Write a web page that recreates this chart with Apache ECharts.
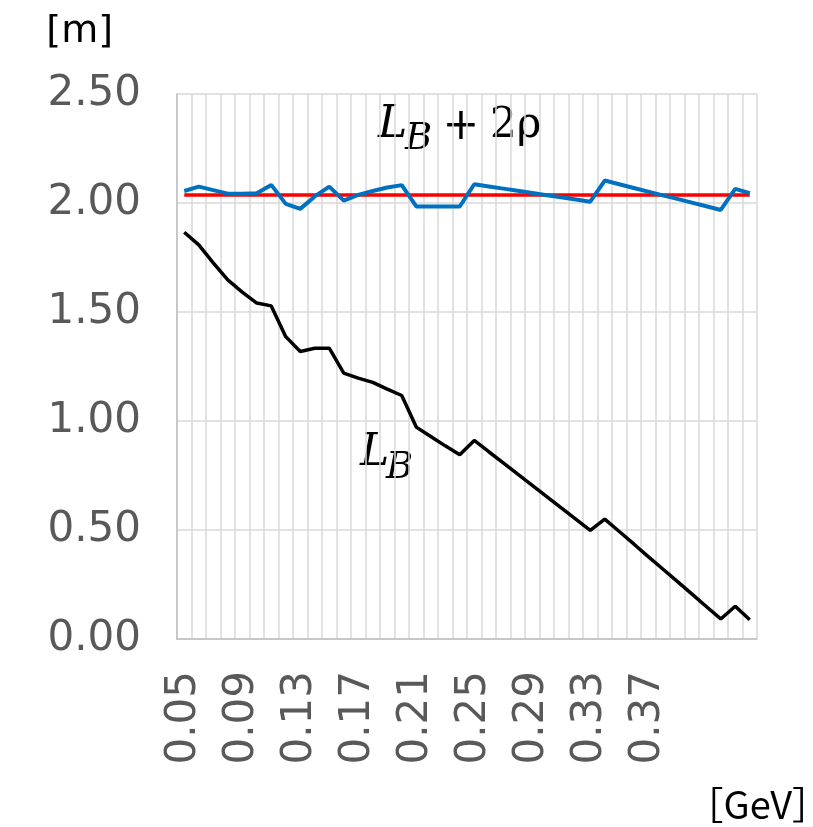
<!DOCTYPE html>
<html>
<head>
<meta charset="utf-8">
<script src="https://cdn.jsdelivr.net/npm/echarts@6/dist/echarts.min.js"></script>
<style>html,body{margin:0;padding:0;background:#fff}#c{width:813px;height:827px}</style>
</head>
<body>
<div id="c"></div>
<script>
const categories = ['0.05','0.06','0.07','0.08','0.09','0.10','0.11','0.12','0.13','0.14',
  '0.15','0.16','0.17','0.18','0.19','0.20','0.21','0.22','0.23','0.24',
  '0.25','0.26','0.27','0.28','0.29','0.30','0.31','0.32','0.33','0.34',
  '0.35','0.36','0.37','0.38','0.39','0.40','0.41','0.42','0.43','0.44'];
const shownTickLabels = ['0.05','0.09','0.13','0.17','0.21','0.25','0.29','0.33','0.37'];
const LB = [1.866,1.808,1.725,1.647,1.591,1.541,1.528,1.387,1.319,1.334,
  1.334,1.220,1.197,1.177,1.146,1.117,0.972,0.929,0.886,0.845,
  0.911,0.859,0.808,0.756,0.705,0.653,0.601,0.550,0.498,0.550,
  0.493,0.436,0.378,0.321,0.264,0.207,0.149,0.092,0.150,0.088];
const LB2rho = [2.055,2.075,2.059,2.043,2.043,2.045,2.083,1.996,1.973,2.030,
  2.075,2.011,2.037,2.055,2.071,2.082,1.984,1.984,1.984,1.984,
  2.086,2.076,2.066,2.056,2.046,2.036,2.026,2.016,2.006,2.103,
  2.086,2.069,2.052,2.035,2.019,2.002,1.985,1.968,2.065,2.045];
const refLine = [2.037,2.037,2.037,2.037,2.037,2.037,2.037,2.037,2.037,2.037,
  2.037,2.037,2.037,2.037,2.037,2.037,2.037,2.037,2.037,2.037,
  2.037,2.037,2.037,2.037,2.037,2.037,2.037,2.037,2.037,2.037,
  2.037,2.037,2.037,2.037,2.037,2.037,2.037,2.037,2.037,2.037];
const yTicks = {min: 0, max: 2.5, interval: 0.5};

const chart = echarts.init(document.getElementById('c'), null, {renderer: 'canvas'});
const sans = '"DejaVu Sans", Verdana, sans-serif';
const serif = '"DejaVu Serif", "Liberation Serif", serif';
chart.setOption({
  animation: false,
  backgroundColor: '#fff',
  grid: {left: 177, right: 56, top: 94, bottom: 188, containLabel: false},
  xAxis: {
    type: 'category',
    data: categories,
    boundaryGap: true,
    axisLine: {show: true, lineStyle: {color: '#bfbfbf', width: 1.5}},
    axisTick: {show: false},
    splitLine: {show: true, interval: 0, lineStyle: {color: '#d9d9d9', width: 1.5}},
    axisLabel: {
      interval: 0, rotate: 90, margin: 32,
      color: '#595959', fontFamily: sans, fontSize: 42,
      formatter: v => shownTickLabels.includes(v) ? v : ''
    }
  },
  yAxis: {
    type: 'value', min: yTicks.min, max: yTicks.max, interval: yTicks.interval,
    axisLine: {show: true, lineStyle: {color: '#bfbfbf', width: 1.5}},
    axisTick: {show: false},
    splitLine: {show: true, lineStyle: {color: '#d9d9d9', width: 1.5}},
    axisLabel: {
      margin: 36, color: '#595959', fontFamily: sans, fontSize: 42,
      formatter: v => v.toFixed(2)
    }
  },
  series: [
    {type: 'line', data: refLine, symbol: 'none', lineStyle: {color: '#ff0000', width: 3.5}, z: 2},
    {type: 'line', data: LB2rho, symbol: 'none', lineStyle: {color: '#0070c0', width: 4}, z: 3},
    {type: 'line', data: LB, symbol: 'none', lineStyle: {color: '#000000', width: 3.5}, z: 3}
  ],
  graphic: [
    {type: 'text', x: 113, y: 32, style: {text: '[m]', font: '38px ' + sans, fill: '#000', textAlign: 'right', textVerticalAlign: 'middle'}},
    {type: 'text', x: 830, y: 805, style: {text: '［GeV］', font: '38px "Noto Sans CJK JP", ' + sans, fill: '#000', textAlign: 'right', textVerticalAlign: 'middle'}},
    {type: 'text', x: 378, y: 126, style: {text: 'L', font: 'italic 44px ' + serif, fill: '#000', textAlign: 'left', textVerticalAlign: 'middle'}},
    {type: 'text', x: 405, y: 139, style: {text: 'B', font: 'italic 37px ' + serif, fill: '#000', textAlign: 'left', textVerticalAlign: 'middle'}},
    {type: 'text', x: 461, y: 128, style: {text: '+', font: '44px ' + serif, fill: '#000', textAlign: 'center', textVerticalAlign: 'middle'}},
    {type: 'text', x: 490, y: 126, style: {text: '2ρ', font: '42px ' + serif, fill: '#000', textAlign: 'left', textVerticalAlign: 'middle'}},
    {type: 'text', x: 360, y: 454, style: {text: 'L', font: 'italic 44px ' + serif, fill: '#000', textAlign: 'left', textVerticalAlign: 'middle'}},
    {type: 'text', x: 386, y: 468, style: {text: 'B', font: 'italic 37px ' + serif, fill: '#000', textAlign: 'left', textVerticalAlign: 'middle'}}
  ]
});
</script>
</body>
</html>
